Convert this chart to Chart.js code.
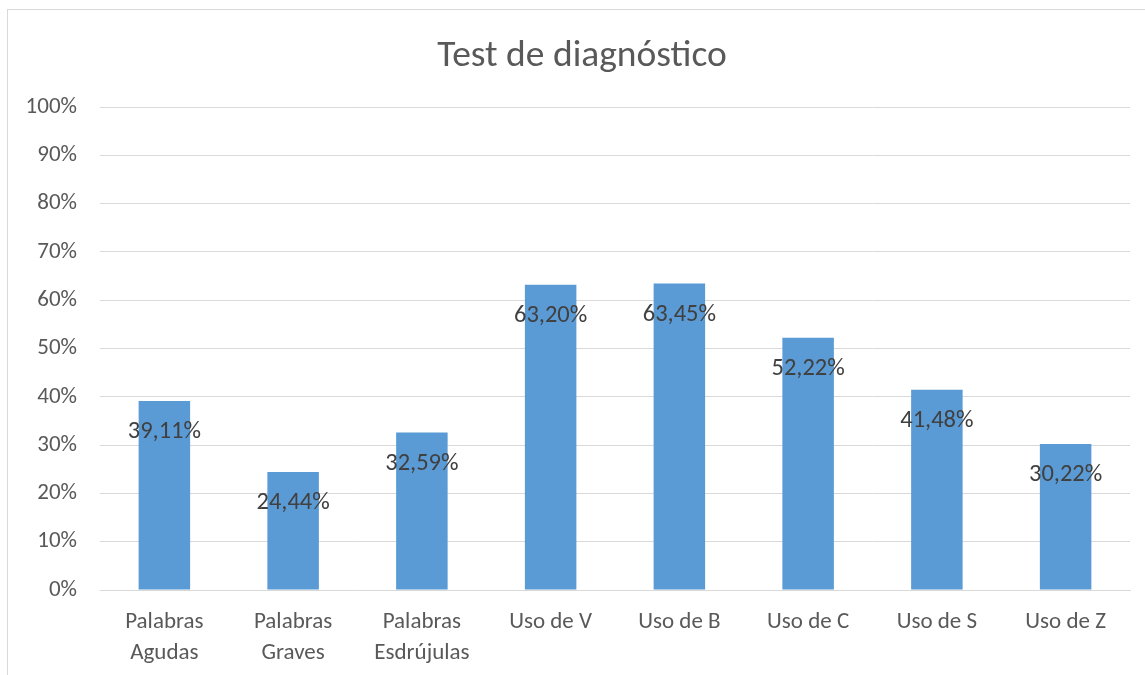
<!DOCTYPE html>
<html>
<head>
<meta charset="utf-8">
<script src="https://cdn.jsdelivr.net/npm/chart.js@4/dist/chart.umd.min.js"></script>
<style>
  body { margin: 0; background: #fff; overflow: hidden; }
  #frame {
    position: absolute; left: 7px; top: 9px;
    width: 1160px; height: 700px;
    border: 1px solid #d9d9d9;
  }
  #chart { position: absolute; left: 0; top: 0; }
</style>
</head>
<body>
<div id="frame"><canvas id="chart" width="1137" height="665"></canvas></div>
<script>
// datos
const categories = [
  ["Palabras", "Agudas"], ["Palabras", "Graves"], ["Palabras", "Esdrújulas"],
  "Uso de V", "Uso de B", "Uso de C", "Uso de S", "Uso de Z"
];
const percentages = [39.11, 24.44, 32.59, 63.20, 63.45, 52.22, 41.48, 30.22];
const yTicks = [0, 10, 20, 30, 40, 50, 60, 70, 80, 90, 100];

const FONT = "Carlito, Calibri, Lato, sans-serif";

// etiquetas de valor dentro de la barra (extremo interior)
const valueLabels = {
  id: "valueLabels",
  afterDatasetsDraw(chart) {
    const ctx = chart.ctx;
    const meta = chart.getDatasetMeta(0);
    ctx.save();
    ctx.font = "24.5px " + FONT;
    ctx.fillStyle = "#404040";
    ctx.textAlign = "center";
    ctx.textBaseline = "middle";
    meta.data.forEach((bar, i) => {
      const txt = percentages[i].toFixed(2).replace(".", ",") + "%";
      ctx.fillText(txt, bar.x, bar.y + 31);
    });
    ctx.restore();
  }
};

// el título del original está centrado un poco más a la derecha
const shiftTitle = {
  id: "shiftTitle",
  afterLayout(chart) {
    if (chart.titleBlock) chart.titleBlock.left = 26;
  }
};

new Chart(document.getElementById("chart").getContext("2d"), {
  type: "bar",
  data: {
    labels: categories,
    datasets: [{
      data: percentages,
      backgroundColor: "#5b9bd5",
      barPercentage: 0.4,
      categoryPercentage: 1
    }]
  },
  options: {
    responsive: false,
    animation: false,
    layout: { padding: { left: 0, right: 15, top: 0, bottom: 0 } },
    plugins: {
      legend: { display: false },
      tooltip: { enabled: false },
      title: {
        display: true,
        text: "Test de diagnóstico",
        color: "#595959",
        font: { family: FONT, size: 37.5, weight: "normal", lineHeight: 1.2 },
        padding: { top: 24.5, bottom: 27.5 }
      }
    },
    scales: {
      x: {
        grid: { display: false, drawTicks: false },
        border: { color: "#d9d9d9", width: 1 },
        ticks: {
          color: "#595959",
          font: { family: FONT, size: 23, lineHeight: 1.35 },
          padding: 17,
          maxRotation: 0,
          autoSkip: false
        },
        afterFit(scale) { scale.height = 85; }
      },
      y: {
        min: 0,
        max: 100,
        afterBuildTicks(scale) { scale.ticks = yTicks.map(v => ({ value: v })); },
        grid: { color: "#d9d9d9", lineWidth: 1, drawTicks: false },
        border: { display: false },
        ticks: {
          color: "#595959",
          font: { family: FONT, size: 23 },
          padding: 23,
          callback: v => v + "%"
        },
        afterFit(scale) { scale.width = 92; }
      }
    }
  },
  plugins: [valueLabels, shiftTitle]
});
</script>
</body>
</html>
